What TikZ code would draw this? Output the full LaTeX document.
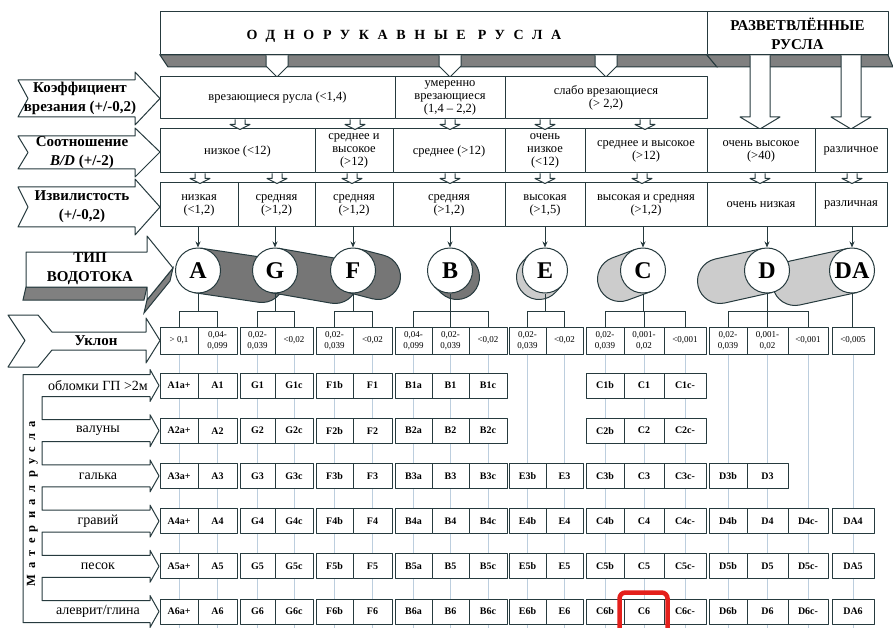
\documentclass[tikz,border=0pt]{standalone}
\usepackage{fontspec}
\setmainfont{Liberation Serif}
\usetikzlibrary{arrows.meta,calc}

\definecolor{lnc}{RGB}{38,58,62}
\definecolor{gridc}{RGB}{188,206,222}
\definecolor{bandg}{RGB}{128,128,128}
\definecolor{darkg}{RGB}{118,118,118}
\definecolor{lightg}{RGB}{204,204,204}
\definecolor{markred}{RGB}{228,32,28}

% tilted cylinder behind a type circle
\newcommand{\tubeshape}[3]{%
  \filldraw[fill=#3,draw=lnc,line width=1pt]
    let \p1=($(#2)-(#1)$), \n1={atan2(\y1,\x1)} in
    ($(#1)+(\n1+90:22.5pt)$) -- ($(#2)+(\n1+90:22.5pt)$)
    arc[start angle=\n1+90,end angle=\n1-90,radius=22.5pt]
    -- ($(#1)+(\n1-90:22.5pt)$) -- cycle;}

\begin{document}
\begin{tikzpicture}[
    x=1pt,y=-1pt,
    line width=1pt,
    outl/.style={draw=lnc,fill=white,line join=round},
    rowcell/.style={outl,inner sep=1pt,align=center,font=\fontsize{12.5}{13}\selectfont},
    big/.style={align=center,font=\bfseries\fontsize{15}{19}\selectfont},
    slopecell/.style={outl,inner sep=0pt,minimum height=27,align=center,font=\fontsize{9}{11.5}\selectfont},
    matcell/.style={outl,inner sep=0pt,minimum height=25,font=\bfseries\fontsize{10}{10}\selectfont},
    matlbl/.style={font=\fontsize{14}{14}\selectfont},
    typecirc/.style={circle,outl,minimum size=45,inner sep=0pt,font=\bfseries\fontsize{24}{24}\selectfont},
    link/.style={draw=lnc},
    linkarr/.style={draw=lnc,-{Stealth[length=6pt,width=5pt]}},
    gridline/.style={draw=gridc,line width=0.9pt},
    tabarr/.pic={\path[outl] (-5,0) -- (-5,5) -- (-10,5) -- (0,10) -- (10,5) -- (5,5) -- (5,0);}
]
\useasboundingbox (0,0) rectangle (893,628);
\fill[white] (0,0) rectangle (893,628);

% header boxes
\filldraw[fill=bandg,draw=lnc] (160,55) -- (707,55) -- (717,67) -- (168,67) -- cycle;
\filldraw[fill=bandg,draw=lnc] (707,55) -- (888,55) -- (893,67) -- (717,67) -- cycle;
\node[outl,minimum width=547,minimum height=43] (single) at (433.5,33.5) {};
\node[outl,minimum width=181,minimum height=43] (braid) at (797.5,33.5) {};
\node[font=\bfseries\fontsize{14}{14}\selectfont\addfontfeatures{LetterSpace=62}] (singlelbl) at (404,36) {ОДНОРУКАВНЫЕ\hspace{12pt}РУСЛА};
\node[big] (braidlbl) at (797.5,34) {РАЗВЕТВЛЁННЫЕ\\РУСЛА};
\foreach \x in {277,450,606}
  \path[outl] (\x-11,55.5) -- (\x-11,66) -- (\x,77) -- (\x+11,66) -- (\x+11,55.5);
\foreach \x in {760,851}
  \path[outl] (\x-10,55.5) -- (\x-10,117) -- (\x-20,117) -- (\x,129) -- (\x+20,117) -- (\x+10,117) -- (\x+10,55.5);

% criteria arrows
\path[outl] (18,80) -- (135,80) -- (135,72) -- (160,98.5) -- (135,125) -- (135,117) -- (18,117) -- (28,98.5) -- cycle;
\path[outl] (18,136) -- (135,136) -- (135,128) -- (160,152) -- (135,177) -- (135,169) -- (18,169) -- (28,152.5) -- cycle;
\path[outl] (18,187) -- (135,187) -- (135,179) -- (160,207) -- (135,235) -- (135,227) -- (18,227) -- (28,207) -- cycle;
\node[big] (cut) at (80,98.5) {Коэффициент\\врезания (+/-0,2)};
\node[big] (ratio) at (82,152.5) {Соотношение\\\textit{B/D} (+/-2)};
\node[big] (sin) at (82,207) {Извилистость\\(+/-0,2)};

% criteria rows
\foreach \xa/\xb/\txt [count=\i] in {160/395/{врезающиеся русла (<1,4)},
    395/505/{умеренно\\врезающиеся\\(1,4 – 2,2)}, 505/707/{слабо врезающиеся\\(> 2,2)}}
  \node[rowcell,minimum width={\xb-\xa},minimum height=42] (k\i) at ({(\xa+\xb)/2},98) {\txt};
\foreach \xa/\xb/\txt [count=\i] in {160/315/{низкое (<12)}, 315/393/{среднее и\\высокое\\(>12)},
    393/505/{среднее (>12)}, 505/585/{очень\\низкое\\(<12)}, 585/707/{среднее и высокое\\(>12)},
    707/815/{очень высокое\\(>40)}, 815/887/{различное}}
  \node[rowcell,minimum width={\xb-\xa},minimum height=44] (b\i) at ({(\xa+\xb)/2},151) {\txt};
\foreach \xa/\xb/\txt [count=\i] in {160/238/{низкая\\(<1,2)}, 238/315/{средняя\\(>1,2)},
    315/393/{средняя\\(>1,2)}, 393/505/{средняя\\(>1,2)}, 505/585/{высокая\\(>1,5)},
    585/707/{высокая и средняя\\(>1,2)}, 707/815/{очень низкая}, 815/887/{различная}}
  \node[rowcell,minimum width={\xb-\xa},minimum height=44] (v\i) at ({(\xa+\xb)/2},205) {\txt};
\foreach \x in {240,355,450,545,645} \pic at (\x,119.5) {tabarr};
\foreach \x in {200,277,352,450,545,642,760,852} \pic at (\x,173.5) {tabarr};

% stream type arrow
\filldraw[fill=bandg,draw=lnc] (26,287) -- (147,287) -- (144,300) -- (23,300) -- cycle;
\filldraw[fill=bandg,draw=lnc] (173,268) -- (147,300) -- (144,313) -- (170,281) -- cycle;
\path[outl] (26,252) -- (147,252) -- (147,236) -- (173,268) -- (147,300) -- (147,287) -- (26,287) -- cycle;
\node[big] (typelbl) at (90,269) {ТИП\\ВОДОТОКА};

% cylinders
\tubeshape{852,270.5}{795,283}{lightg}
\tubeshape{767,270.5}{720,281}{lightg}
\tubeshape{643,270.5}{620,279}{lightg}
\tubeshape{545,270.5}{539,277}{lightg}
\tubeshape{450,270.5}{457,277}{darkg}
\tubeshape{198,270.5}{262,280}{darkg}
\tubeshape{275,270.5}{335,281}{darkg}
\tubeshape{353,270.5}{378,277}{darkg}

% stream types
\foreach \n/\x in {A/198,G/275,F/353,B/450,E/545,C/643,D/767,DA/852}
  \node[typecirc] (\n) at (\x,270.5) {\n};
\foreach \n [count=\i] in {A,G,F,B,E,C,D,DA}
  \draw[linkarr] (\n |- v\i.south) -- (\n.north);

% slope
\path[outl] (8,315) -- (38,315) -- (52,332) -- (146,332) -- (146,318) -- (160,340.5) -- (146,363) -- (146,350) -- (52,350) -- (38,367) -- (8,367) -- (25,340.5) -- cycle;
\node[big] (slope) at (96,341) {Уклон};
\foreach \xa/\xb/\txt [count=\i] in {160/198/{> 0,1}, 198/237/{0,04-\\0,099},
    240/275/{0,02-\\0,039}, 275/313/{<0,02}, 316/353/{0,02-\\0,039}, 353/392/{<0,02},
    395/432/{0,04-\\0,099}, 432/469/{0,02-\\0,039}, 469/507/{<0,02},
    509/546/{0,02-\\0,039}, 546/583/{<0,02},
    586/624/{0,02-\\0,039}, 624/664/{0,001-\\0,02}, 664/706/{<0,001},
    709/747/{0,02-\\0,039}, 747/788/{0,001-\\0,02}, 788/828/{<0,001}, 832/874/{<0,005}}
  \node[slopecell,minimum width={\xb-\xa}] (s\i) at ({(\xa+\xb)/2},340.5) {\txt};
\coordinate (brk) at (0,311);
\foreach \n/\first/\last in {A/1/2,G/3/4,F/5/6,B/7/9,E/10/11,C/12/14,D/15/17} {
  \draw[link] (s\first.north) -- (s\first |- brk) -- (s\last |- brk) -- (s\last.north);
  \draw[link] (\n.south) -- (\n |- brk);
}
\foreach \m in {8,13,16} \draw[link] (s\m |- brk) -- (s\m.north);
\draw[link] (DA.south) -- (DA |- s18.north);

% guide lines
\coordinate (bot) at (0,628);
\foreach \i in {1,...,18} \draw[gridline] (s\i.south) -- (s\i |- bot);

% bed material
\path[draw=lnc,fill=white,line join=round] (23,374.5)
  \foreach \yc in {385.5,430.7,475.9,521.1,566.3} {
    -- (150,\yc-11) -- (150,\yc-16) -- (159,\yc) -- (150,\yc+16) -- (150,\yc+11) -- (42,\yc+11) -- (42,\yc+34.2)
  }
  -- (150,600.5) -- (150,595.5) -- (159,611.5) -- (150,627.5) -- (150,622.5) -- (23,622.5) -- cycle;
\node[rotate=90,font=\bfseries\fontsize{12.5}{12}\selectfont\addfontfeatures{LetterSpace=50}] (matl) at (32.5,504) {Материал\hspace{8pt}русла};
\foreach \yc/\txt [count=\i] in {385.5/{обломки ГП >2м}, 430.7/{валуны}, 475.9/{галька},
    521.1/{гравий}, 566.3/{песок}, 611.5/{алеврит/глина}}
  \node[matlbl] (ml\i) at (98,\yc) {\txt};
\foreach \row [evaluate=\row as \yc using 385.5+45.2*(\row-1)] in {1,...,6}
  \foreach \xa/\xb/\pre/\suf/\fr [count=\i] in {160/198/A/a+/1, 198/237/A//1,
      240/275/G//1, 275/313/G/c/1, 316/353/F/b/1, 353/392/F//1,
      395/432/B/a/1, 432/469/B//1, 469/507/B/c/1, 509/546/E/b/3, 546/583/E//3,
      586/624/C/b/1, 624/664/C//1, 664/706/C/c-/1,
      709/747/D/b/3, 747/788/D//3, 788/828/D/c-/4, 832/874/DA//4} {
    \ifnum\row<\fr\relax\else
      \node[matcell,minimum width={\xb-\xa}] (m\row-\i) at ({(\xa+\xb)/2},\yc) {\pre\row\suf};
    \fi
  }

% highlighted type
\draw[markred,line width=4.5pt,rounded corners=6pt] (619.5,592.5) rectangle (667.5,645);

\end{tikzpicture}
\end{document}
